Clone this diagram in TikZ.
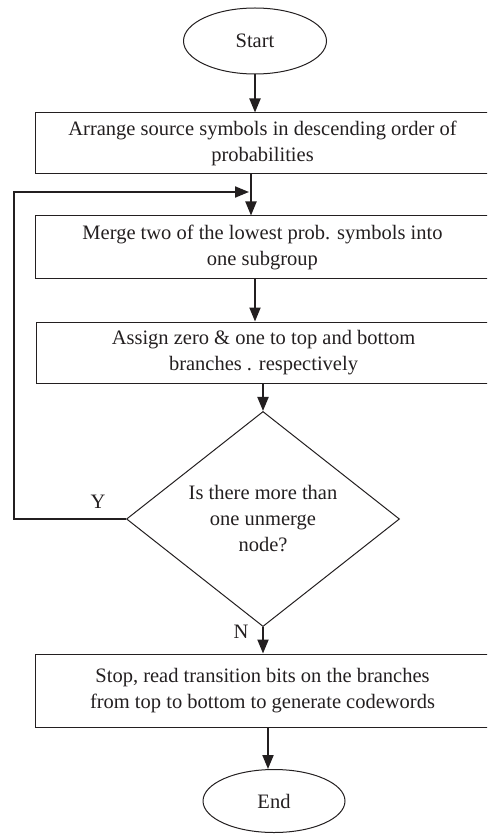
\documentclass[tikz,border=0pt]{standalone}
\usepackage{fontspec}
\setmainfont{Liberation Serif}
\usetikzlibrary{shapes.geometric,arrows.meta}
\definecolor{ink}{HTML}{231F20}
\begin{document}
\begin{tikzpicture}[x=1pt,y=-1pt,
  every node/.style={text=ink,font=\fontsize{20.5}{26}\selectfont},
  term/.style={draw=ink,line width=1pt,ellipse,minimum width=143pt,minimum height=66pt,inner sep=0pt},
  proc/.style={draw=ink,line width=1pt,rectangle,minimum width=455pt,inner sep=0pt,align=center},
  dec/.style={draw=ink,line width=1pt,diamond,minimum width=273pt,minimum height=202pt,inner sep=0pt,align=center},
  flow/.style={draw=ink,line width=2pt,-{Triangle[length=14pt,width=11pt]}},
  lab/.style={font=\fontsize{20.5}{22}\selectfont}]
\useasboundingbox (0,0) rectangle (487,834);
\clip (0,0) rectangle (487,834);
\node[term] (start) at (255,41) {Start};
\node[proc,minimum height=61pt] (b1) at (262.5,143.5) {Arrange source symbols in descending order of\\probabilities};
\node[proc,minimum height=62pt] (b2) at (262.5,247) {Merge two of the lowest prob. symbols into\\one subgroup};
\node[proc,minimum height=61pt] (b3) at (263.5,352.5) {Assign zero \& one to top and bottom\\branches . respectively};
\node[dec] (d) at (263,519) {Is there more than\\one unmerge\\node?};
\node[proc,minimum height=73pt] (b4) at (262.5,690.5) {Stop, read transition bits on the branches\\from top to bottom to generate codewords};
\node[term,minimum width=142pt,minimum height=63pt] (end) at (274,801) {End};
\coordinate (xa) at (251,0);
\coordinate (xb) at (255,0);
\coordinate (xe) at (268,0);
\coordinate (lx) at (14,0);
\coordinate (ly) at (0,192);
\coordinate (tip) at (249,192);
\draw[flow] (start.south) -- (start.south |- b1.north);
\draw[flow] (b1.south -| xa) -- (b2.north -| xa);
\draw[flow] (b2.south -| xb) -- (b3.north -| xb);
\draw[flow] (b3.south -| d.north) -- (d.north);
\draw[flow] (d.south) -- (d.south |- b4.north);
\draw[flow] (b4.south -| xe) -- (end.north -| xe);
\draw[flow] (d.west) -- (d.west -| lx) -- (lx |- ly) -- (tip);
\node[lab] (ylab) at (98,502) {Y};
\node[lab] (nlab) at (241,632) {N};
\end{tikzpicture}
\end{document}
